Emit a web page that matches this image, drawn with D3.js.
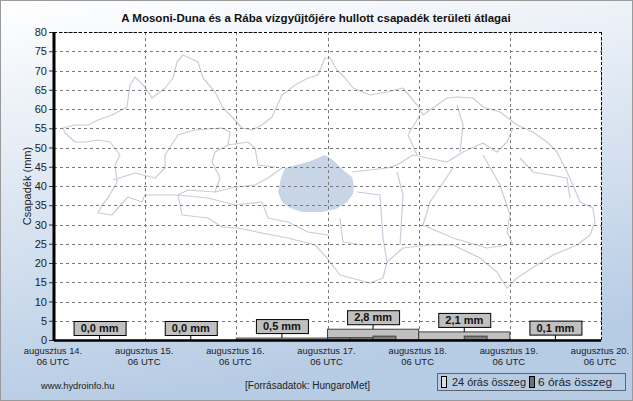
<!DOCTYPE html>
<html>
<head>
<meta charset="utf-8">
<script src="https://cdn.jsdelivr.net/npm/d3@7"></script>
<style>
  body { margin: 0; background: #fff; }
  svg text { font-family: Arial, "Liberation Sans", sans-serif; }
</style>
</head>
<body>
<div id="chart"></div>
<script>
// Chart data
const dayLabels = ["augusztus 14.", "augusztus 15.", "augusztus 16.", "augusztus 17.", "augusztus 18.", "augusztus 19.", "augusztus 20."];
const hourLabel = "06 UTC";
const daily24 = [0.0, 0.0, 0.5, 2.8, 2.1, 0.1];
const sixHour = [
    [0.0, 0.0, 0.0, 0.0],
    [0.0, 0.0, 0.0, 0.0],
    [0.1, 0.1, 0.2, 0.1],
    [0.6, 0.6, 1.0, 0.0],
    [0.0, 0.1, 1.0, 0.0],
    [0.0, 0.0, 0.1, 0.0]
];
const yTicks = d3.range(0, 85, 5);

// Set dimensions
const W = 633, H = 401;
const margin = { top: 32, right: 32, bottom: 61, left: 54 };

const svg = d3.select("#chart")
    .append("svg")
    .attr("width", W)
    .attr("height", H);

// Background gradient
const defs = svg.append("defs");
const grad = defs.append("linearGradient")
    .attr("id", "bg")
    .attr("x1", 0).attr("y1", 0).attr("x2", 0.25).attr("y2", 1);
grad.append("stop").attr("offset", "0%").attr("stop-color", "#ffffff");
grad.append("stop").attr("offset", "100%").attr("stop-color", "#b6cbe4");

svg.append("rect")
    .attr("x", 0.5).attr("y", 0.5)
    .attr("width", W - 1).attr("height", H - 1)
    .attr("fill", "url(#bg)")
    .attr("stroke", "#9a9a9a");

// Scales
const x = d3.scaleLinear()
    .domain([0, 6])
    .range([margin.left, W - margin.right]);
const y = d3.scaleLinear()
    .domain([0, 80])
    .range([H - margin.bottom, margin.top]);

// Plot area
svg.append("rect")
    .attr("x", x(0)).attr("y", y(80))
    .attr("width", x(6) - x(0)).attr("height", y(0) - y(80))
    .attr("fill", "#fff");

// Background map (decoration)
const mapG = svg.append("g")
    .attr("fill", "none")
    .attr("stroke", "#c9ccda")
    .attr("stroke-width", 1.2)
    .attr("stroke-linejoin", "round");

mapG.append("path")
    .attr("fill", "#c8d5e6")
    .attr("stroke", "none")
    .attr("d", "M278,192 L281,178 L285,168 L296,165 L308,162 L318,158 L325,155 L333,160 L343,170 L352,177 L354,186 L353,194 L347,202 L336,209 L322,212 L302,212 L290,208 L282,202 Z");

const outline = [[63,128],[75,125],[88,125],[98,120],[112,115],[127,107],[130,85],[135,77],[145,87],[152,98],[165,88],[173,78],[177,62],[183,55],[198,62],[203,78],[215,92],[223,108],[232,117],[242,128],[252,130],[262,125],[272,117],[282,95],[295,85],[308,78],[318,75],[325,58],[330,58],[337,70],[345,78],[353,88],[370,95],[387,92],[403,88],[417,105],[423,115],[447,98],[457,97],[473,98],[483,107],[500,112],[517,125],[533,132],[547,142],[557,152],[567,172],[573,185],[580,202],[593,208],[595,222],[590,235],[577,245],[553,255],[537,265],[517,278],[507,288],[497,272],[480,258],[453,245],[430,245],[403,248],[387,262],[383,278],[370,283],[340,275],[327,258],[315,245],[288,238],[272,235],[238,228],[222,227],[208,218],[182,215],[178,195],[145,195],[142,202],[128,197],[118,208],[112,215],[98,213],[102,205],[108,198],[117,182],[115,165],[120,155],[110,142],[98,140],[85,142],[75,142],[65,133]];

const inner = [
    [[113,180],[135,173],[155,178],[165,168],[165,155],[178,135],[195,130],[222,128],[230,132],[228,145],[215,152],[212,162],[220,178],[215,192],[188,190],[178,195]],
    [[215,192],[235,187],[255,185],[268,178],[282,168]],
    [[228,145],[248,142],[255,148],[258,165],[275,167]],
    [[178,195],[208,198],[235,205],[262,202],[268,218],[288,222],[308,232],[328,235]],
    [[352,172],[387,168],[397,165],[413,155],[427,158],[447,162],[463,152],[483,143],[497,152],[507,142],[513,128]],
    [[420,115],[408,135],[417,155]],
    [[457,105],[463,125],[460,152]],
    [[483,155],[500,185],[510,215],[507,232],[513,245]],
    [[520,158],[533,172],[567,178],[570,198]],
    [[397,172],[403,195],[400,245]],
    [[453,168],[430,202],[423,225],[453,238],[487,248],[507,245]],
    [[357,192],[380,195],[383,238],[387,262]],
    [[340,218],[343,242],[363,245]]
];

const line = d3.line().curve(d3.curveLinear);
mapG.append("path").attr("d", line(outline) + "Z");
inner.forEach(seg => mapG.append("path").attr("d", line(seg)));

// Grid
const gridG = svg.append("g")
    .attr("stroke", "#7a7a7a")
    .attr("stroke-dasharray", "3,3")
    .attr("stroke-width", 1);

gridG.selectAll(".hgrid")
    .data(yTicks.filter(d => d > 0))
    .enter().append("line")
    .attr("x1", x(0)).attr("x2", x(6))
    .attr("y1", d => Math.round(y(d)) + 0.5)
    .attr("y2", d => Math.round(y(d)) + 0.5);

gridG.selectAll(".vgrid")
    .data(d3.range(1, 7))
    .enter().append("line")
    .attr("x1", d => Math.round(x(d)) + 0.5)
    .attr("x2", d => Math.round(x(d)) + 0.5)
    .attr("y1", y(80)).attr("y2", y(0));

// Plot frame top (dashed black)
svg.append("line")
    .attr("x1", x(0)).attr("x2", x(6))
    .attr("y1", Math.round(y(80)) + 0.5).attr("y2", Math.round(y(80)) + 0.5)
    .attr("stroke", "#000")
    .attr("stroke-dasharray", "3,2");

// 24h bars
const dayW = x(1) - x(0);
svg.selectAll(".bar24")
    .data(daily24)
    .enter().append("rect")
    .attr("class", "bar24")
    .attr("x", (d, i) => x(i))
    .attr("y", d => y(d))
    .attr("width", dayW)
    .attr("height", d => y(0) - y(d))
    .attr("fill", "#c0c0c0")
    .attr("stroke", d => d >= 0.3 ? "#404040" : "none")
    .attr("stroke-width", 1);

// 6h bars
const sixFlat = [];
sixHour.forEach((arr, i) => arr.forEach((v, j) => sixFlat.push({ day: i, q: j, v: v })));
svg.selectAll(".bar6")
    .data(sixFlat.filter(d => d.v > 0.3))
    .enter().append("rect")
    .attr("class", "bar6")
    .attr("x", d => x(d.day + d.q / 4))
    .attr("y", d => y(d.v))
    .attr("width", dayW / 4)
    .attr("height", d => y(0) - y(d.v))
    .attr("fill", "#808080")
    .attr("stroke", "#404040")
    .attr("stroke-width", 1);

// Axes
const yAxis = svg.append("g")
    .attr("transform", `translate(${x(0)},0)`)
    .call(d3.axisLeft(y).tickValues(yTicks).tickSize(5).tickPadding(2));
yAxis.select(".domain").remove();
yAxis.selectAll("line").attr("stroke", "#333");
yAxis.selectAll("text")
    .attr("font-size", 11)
    .attr("fill", "#222");

svg.append("line")
    .attr("x1", x(0)).attr("x2", x(0))
    .attr("y1", y(80)).attr("y2", y(0) + 1)
    .attr("stroke", "#000")
    .attr("stroke-width", 3);
svg.append("line")
    .attr("x1", x(0)).attr("x2", x(6))
    .attr("y1", y(0) + 0.5).attr("y2", y(0) + 0.5)
    .attr("stroke", "#000")
    .attr("stroke-width", 2.5);
svg.append("line")
    .attr("x1", x(6) + 0.5).attr("x2", x(6) + 0.5)
    .attr("y1", y(80)).attr("y2", y(0))
    .attr("stroke", "#000")
    .attr("stroke-dasharray", "3,2");

const xAxis = svg.append("g")
    .attr("transform", `translate(0,${y(0)})`)
    .call(d3.axisBottom(x).tickValues(d3.range(0, 7)).tickSize(0).tickFormat(""));
xAxis.select(".domain").remove();

const xl = svg.append("g").selectAll("g")
    .data(dayLabels)
    .enter().append("g")
    .attr("transform", (d, i) => `translate(${x(i) - 1},0)`);
xl.append("text")
    .attr("y", 354)
    .attr("text-anchor", "middle")
    .attr("font-size", 9.4)
    .attr("fill", "#222")
    .text(d => d);
xl.append("text")
    .attr("y", 365)
    .attr("text-anchor", "middle")
    .attr("font-size", 9.5)
    .attr("fill", "#222")
    .text(hourLabel);

// Value label boxes
const boxW = 52, boxH = 14;
const lab = svg.selectAll(".vlab")
    .data(daily24)
    .enter().append("g")
    .attr("class", "vlab")
    .attr("transform", (d, i) => `translate(${x(i + 0.5)},${y(d) - 5})`);
lab.append("line")
    .attr("x1", 0).attr("x2", 0)
    .attr("y1", 0).attr("y2", 5)
    .attr("stroke", "#000");
lab.append("rect")
    .attr("x", -boxW / 2 + 0.5).attr("y", -boxH + 0.5)
    .attr("width", boxW).attr("height", boxH)
    .attr("fill", "#c0c0c0")
    .attr("stroke", "#000");
lab.append("text")
    .attr("y", -3)
    .attr("text-anchor", "middle")
    .attr("font-size", 11)
    .attr("font-weight", "bold")
    .attr("fill", "#111")
    .text(d => d.toFixed(1).replace(".", ",") + " mm");

// Y label
svg.append("text")
    .attr("transform", `translate(31,${(y(0) + y(80)) / 2}) rotate(-90)`)
    .attr("text-anchor", "middle")
    .attr("font-size", 11)
    .attr("fill", "#222")
    .text("Csapadék (mm)");

// Title
svg.append("text")
    .attr("x", 316)
    .attr("y", 22)
    .attr("text-anchor", "middle")
    .attr("font-size", 11.5)
    .attr("font-weight", "bold")
    .attr("fill", "#111")
    .text("A Mosoni-Duna és a Rába vízgyűjtőjére hullott csapadék területi átlagai");

// Footer
svg.append("text")
    .attr("x", 41).attr("y", 389)
    .attr("font-size", 9.3)
    .attr("fill", "#222")
    .text("www.hydroinfo.hu");
svg.append("text")
    .attr("x", 245).attr("y", 389)
    .attr("font-size", 10)
    .attr("fill", "#222")
    .text("[Forrásadatok: HungaroMet]");

// Legend
const legend = svg.append("g");
legend.append("rect")
    .attr("x", 437.5).attr("y", 373.5)
    .attr("width", 188).attr("height", 17)
    .attr("fill", "none")
    .attr("stroke", "#000")
    .attr("stroke-dasharray", "1,1");
const legItems = [
    { label: "24 órás összeg", fill: "#dcdcdc", x: 441, tx: 11 },
    { label: "6 órás összeg", fill: "#707070", x: 529, tx: 9 }
];
const li = legend.selectAll(".li")
    .data(legItems)
    .enter().append("g")
    .attr("transform", d => `translate(${d.x},0)`);
li.append("rect")
    .attr("x", 0.5).attr("y", 376.5)
    .attr("width", 5).attr("height", 11)
    .attr("fill", d => d.fill)
    .attr("stroke", "#000");
li.append("text")
    .attr("x", d => d.tx).attr("y", 386)
    .attr("font-size", 11.5)
    .attr("textLength", d => d.x === 441 ? 74 : 74)
    .attr("lengthAdjust", "spacingAndGlyphs")
    .attr("fill", "#222")
    .text(d => d.label);
</script>
</body>
</html>
